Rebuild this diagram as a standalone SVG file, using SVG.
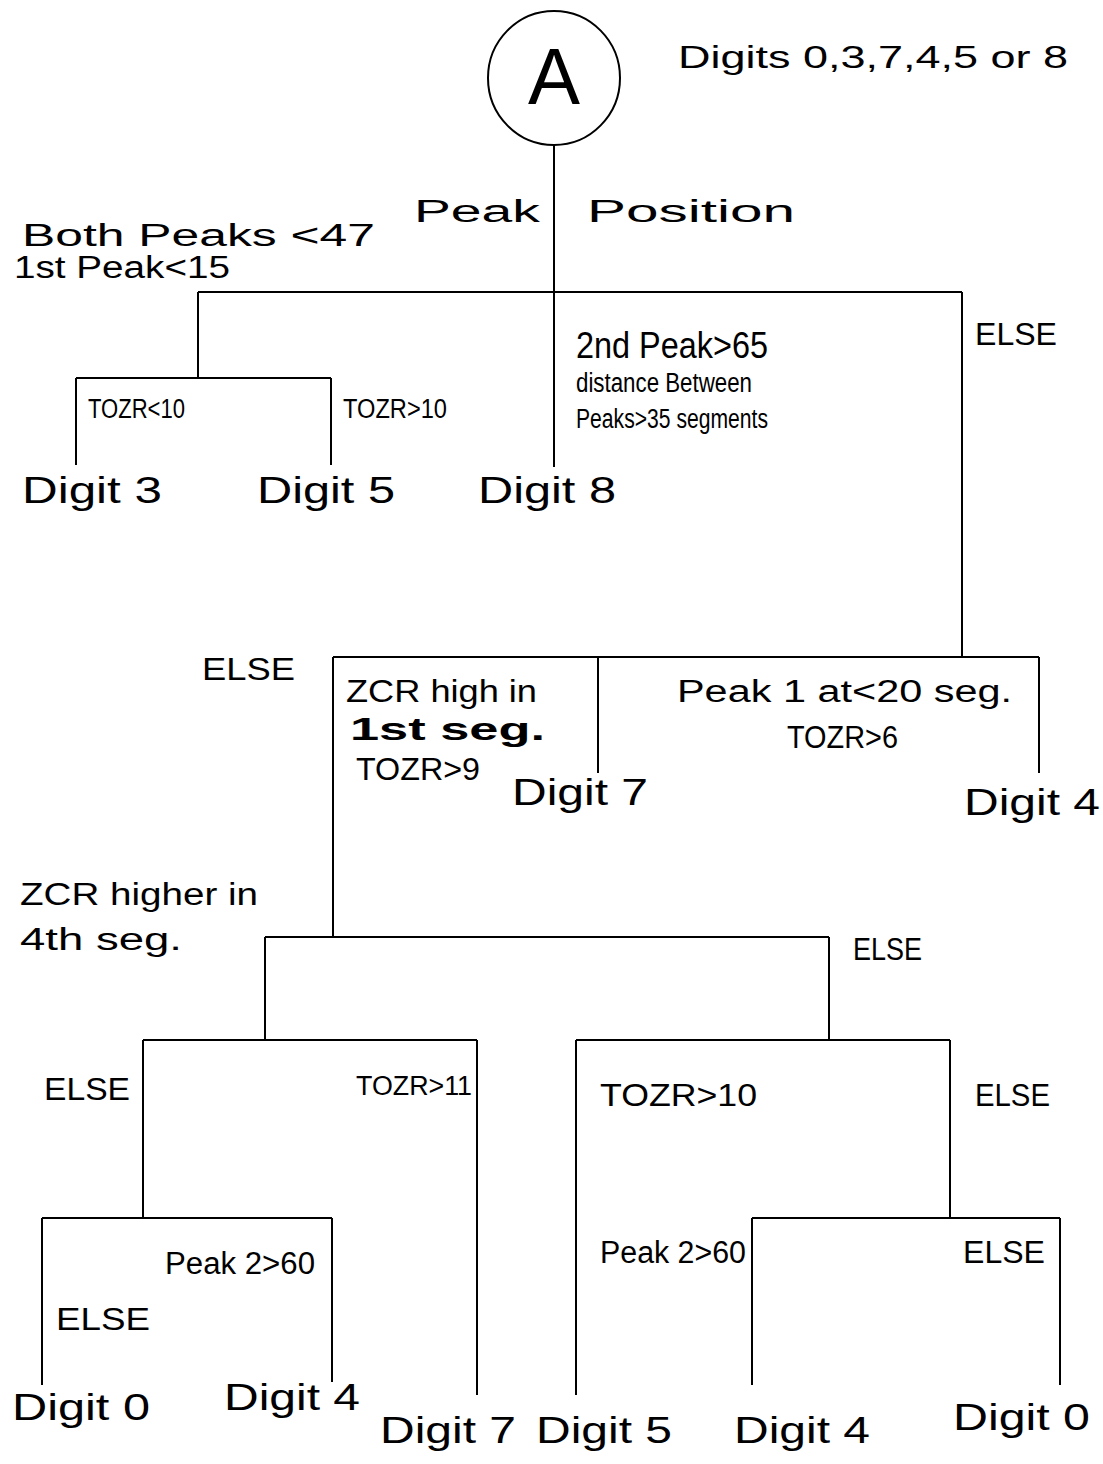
<svg xmlns="http://www.w3.org/2000/svg" width="1103" height="1464" viewBox="0 0 1103 1464">
<style>
text{font-family:"Liberation Sans",Arial,sans-serif;fill:#000}
.l{font-size:36px}
.m{font-size:31px}
.s{font-size:27px}
.b{font-weight:bold}
#connectors line{stroke:#000;stroke-width:2;fill:none}
</style>
<rect width="1103" height="1464" fill="#fff"/>
<g id="root">
<ellipse cx="554" cy="78" rx="66" ry="67" fill="none" stroke="#000" stroke-width="2"/>
<text x="554" y="104" font-size="80" text-anchor="middle" textLength="52" lengthAdjust="spacingAndGlyphs">A</text>
<text class="m" x="678" y="68" textLength="390" lengthAdjust="spacingAndGlyphs">Digits 0,3,7,4,5 or 8</text>
</g>
<g id="connectors">
<line x1="554" y1="145" x2="554" y2="467"/>
<line x1="198" y1="292" x2="962" y2="292"/>
<line x1="198" y1="292" x2="198" y2="378"/>
<line x1="76" y1="378" x2="331" y2="378"/>
<line x1="76" y1="378" x2="76" y2="465"/>
<line x1="331" y1="378" x2="331" y2="465"/>
<line x1="962" y1="292" x2="962" y2="657"/>
<line x1="333" y1="657" x2="1039" y2="657"/>
<line x1="598" y1="657" x2="598" y2="773"/>
<line x1="1039" y1="657" x2="1039" y2="773"/>
<line x1="333" y1="657" x2="333" y2="937"/>
<line x1="265" y1="937" x2="829" y2="937"/>
<line x1="265" y1="937" x2="265" y2="1040"/>
<line x1="829" y1="937" x2="829" y2="1040"/>
<line x1="143" y1="1040" x2="477" y2="1040"/>
<line x1="143" y1="1040" x2="143" y2="1218"/>
<line x1="477" y1="1040" x2="477" y2="1395"/>
<line x1="576" y1="1040" x2="950" y2="1040"/>
<line x1="576" y1="1040" x2="576" y2="1395"/>
<line x1="950" y1="1040" x2="950" y2="1218"/>
<line x1="42" y1="1218" x2="332" y2="1218"/>
<line x1="42" y1="1218" x2="42" y2="1385"/>
<line x1="332" y1="1218" x2="332" y2="1382"/>
<line x1="752" y1="1218" x2="1060" y2="1218"/>
<line x1="752" y1="1218" x2="752" y2="1385"/>
<line x1="1060" y1="1218" x2="1060" y2="1385"/>
</g>
<g id="labels-top">
<text class="m" x="414" y="222" textLength="126" lengthAdjust="spacingAndGlyphs">Peak</text>
<text class="m" x="587" y="222" textLength="208" lengthAdjust="spacingAndGlyphs">Position</text>
<text class="m" x="22" y="246" textLength="353" lengthAdjust="spacingAndGlyphs">Both Peaks &lt;47</text>
<text class="m" x="14" y="278" textLength="216" lengthAdjust="spacingAndGlyphs">1st Peak&lt;15</text>
<text class="s" x="88" y="418" textLength="97" lengthAdjust="spacingAndGlyphs">TOZR&lt;10</text>
<text class="s" x="343" y="418" textLength="104" lengthAdjust="spacingAndGlyphs">TOZR&gt;10</text>
<text class="l" x="576" y="358" textLength="192" lengthAdjust="spacingAndGlyphs">2nd Peak&gt;65</text>
<text class="s" x="576" y="392" textLength="176" lengthAdjust="spacingAndGlyphs">distance Between</text>
<text class="s" x="576" y="428" textLength="192" lengthAdjust="spacingAndGlyphs">Peaks&gt;35 segments</text>
<text class="m" x="975" y="345" textLength="82" lengthAdjust="spacingAndGlyphs">ELSE</text>
</g>
<g id="leaf-digit3"><text class="l" x="22" y="503" textLength="140" lengthAdjust="spacingAndGlyphs">Digit 3</text></g>
<g id="leaf-digit5a"><text class="l" x="257" y="503" textLength="138" lengthAdjust="spacingAndGlyphs">Digit 5</text></g>
<g id="leaf-digit8"><text class="l" x="478" y="503" textLength="138" lengthAdjust="spacingAndGlyphs">Digit 8</text></g>
<g id="labels-mid">
<text class="m" x="202" y="680" textLength="93" lengthAdjust="spacingAndGlyphs">ELSE</text>
<text class="m" x="346" y="702" textLength="191" lengthAdjust="spacingAndGlyphs">ZCR high in</text>
<text class="m b" x="350" y="740" textLength="195" lengthAdjust="spacingAndGlyphs">1st seg.</text>
<text class="m" x="356" y="780" textLength="124" lengthAdjust="spacingAndGlyphs">TOZR&gt;9</text>
<text class="m" x="677" y="702" textLength="335" lengthAdjust="spacingAndGlyphs">Peak 1 at&lt;20 seg.</text>
<text class="m" x="787" y="748" textLength="111" lengthAdjust="spacingAndGlyphs">TOZR&gt;6</text>
<text class="m" x="20" y="905" textLength="238" lengthAdjust="spacingAndGlyphs">ZCR higher in</text>
<text class="m" x="20" y="950" textLength="162" lengthAdjust="spacingAndGlyphs">4th seg.</text>
<text class="m" x="853" y="960" textLength="69" lengthAdjust="spacingAndGlyphs">ELSE</text>
</g>
<g id="leaf-digit7a"><text class="l" x="512" y="805" textLength="136" lengthAdjust="spacingAndGlyphs">Digit 7</text></g>
<g id="leaf-digit4a"><text class="l" x="964" y="815" textLength="136" lengthAdjust="spacingAndGlyphs">Digit 4</text></g>
<g id="labels-low">
<text class="m" x="44" y="1100" textLength="86" lengthAdjust="spacingAndGlyphs">ELSE</text>
<text class="s" x="356" y="1095" textLength="116" lengthAdjust="spacingAndGlyphs">TOZR&gt;11</text>
<text class="m" x="600" y="1106" textLength="157" lengthAdjust="spacingAndGlyphs">TOZR&gt;10</text>
<text class="m" x="975" y="1106" textLength="75" lengthAdjust="spacingAndGlyphs">ELSE</text>
<text class="m" x="165" y="1274" textLength="150" lengthAdjust="spacingAndGlyphs">Peak 2&gt;60</text>
<text class="m" x="56" y="1330" textLength="94" lengthAdjust="spacingAndGlyphs">ELSE</text>
<text class="m" x="600" y="1263" textLength="146" lengthAdjust="spacingAndGlyphs">Peak 2&gt;60</text>
<text class="m" x="963" y="1263" textLength="82" lengthAdjust="spacingAndGlyphs">ELSE</text>
</g>
<g id="leaf-digit0a"><text class="l" x="12" y="1420" textLength="138" lengthAdjust="spacingAndGlyphs">Digit 0</text></g>
<g id="leaf-digit4b"><text class="l" x="224" y="1410" textLength="136" lengthAdjust="spacingAndGlyphs">Digit 4</text></g>
<g id="leaf-digit7b"><text class="l" x="380" y="1443" textLength="136" lengthAdjust="spacingAndGlyphs">Digit 7</text></g>
<g id="leaf-digit5b"><text class="l" x="536" y="1443" textLength="136" lengthAdjust="spacingAndGlyphs">Digit 5</text></g>
<g id="leaf-digit4c"><text class="l" x="734" y="1443" textLength="136" lengthAdjust="spacingAndGlyphs">Digit 4</text></g>
<g id="leaf-digit0b"><text class="l" x="953" y="1430" textLength="137" lengthAdjust="spacingAndGlyphs">Digit 0</text></g>
</svg>
